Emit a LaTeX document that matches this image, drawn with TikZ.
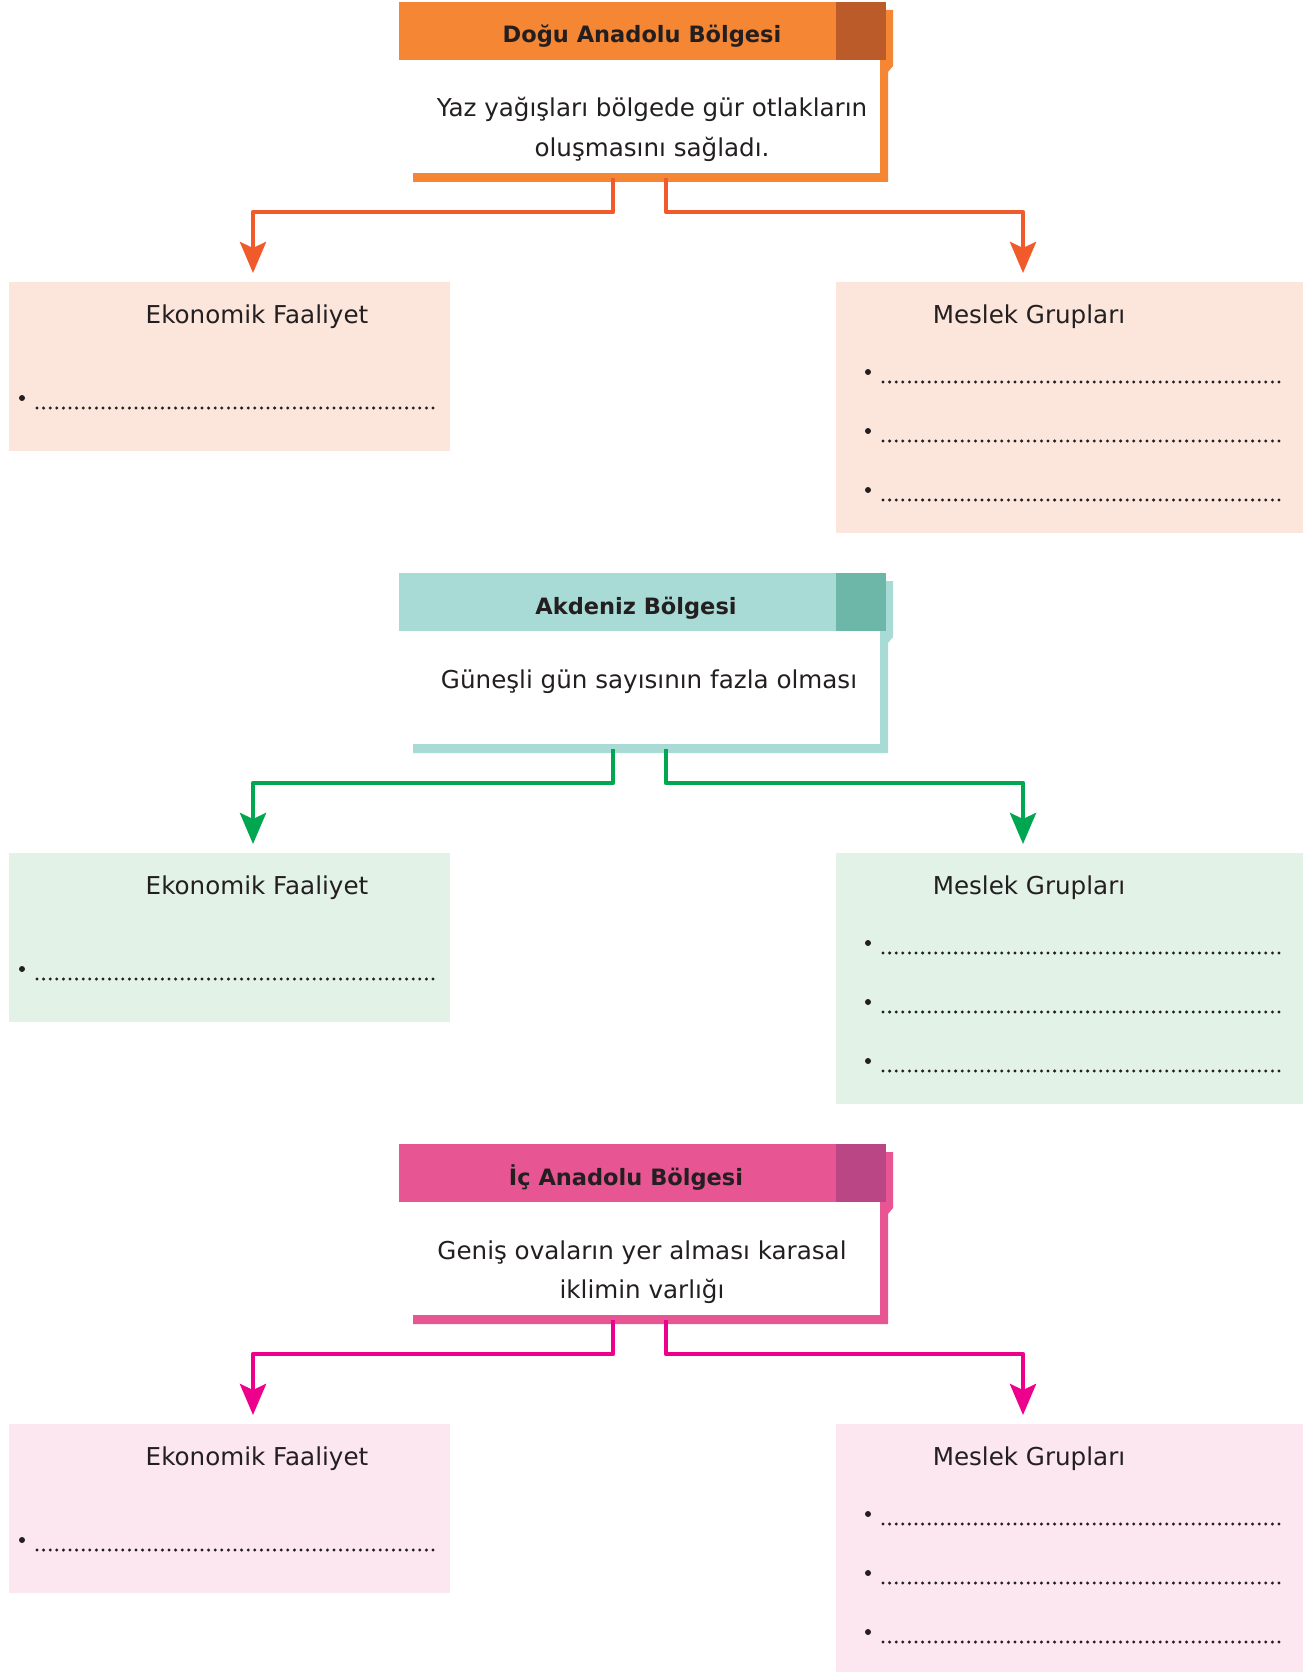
\documentclass[tikz,border=0pt]{standalone}
\usepackage{fontspec}
\setmainfont{DejaVu Sans}
\usetikzlibrary{arrows.meta}
\definecolor{orT}{HTML}{F48634}
\definecolor{orD}{HTML}{BA5B29}
\definecolor{orC}{HTML}{F15A2B}
\definecolor{orF}{HTML}{FCE5DB}
\definecolor{tlT}{HTML}{A8DBD5}
\definecolor{tlD}{HTML}{6CB7A8}
\definecolor{tlC}{HTML}{00A650}
\definecolor{tlF}{HTML}{E2F2E7}
\definecolor{pkT}{HTML}{E75593}
\definecolor{pkD}{HTML}{BA4686}
\definecolor{pkC}{HTML}{EC008C}
\definecolor{pkF}{HTML}{FCE6F0}
\definecolor{ink}{HTML}{231F20}
\tikzset{
  plain/.style={anchor=north west, inner sep=0pt, outer sep=0pt, draw=none},
  conn/.style={draw=#1, line width=4.5pt, line join=round,
    -{Stealth[length=31pt,width=26pt,inset=6pt]}},
  ttl/.style={anchor=base, inner sep=0pt, text=ink, font=\fontsize{22.5}{26}\selectfont\bfseries},
  txt/.style={anchor=base, inner sep=0pt, text=ink, font=\fontsize{24.6}{28}\selectfont},
  dotline/.style={draw=ink, line width=3.3pt, line cap=round, dash pattern=on 0pt off 6.6pt},
}
\newcommand\drawregion[6]{%
  \begin{scope}[yshift=-#2pt]
    \fill[#3] (886,10) -- (893,10) -- (893,66) -- (888,72) -- (888,182) -- (413,182)
      -- (413,173) -- (880,173) -- (880,60) -- cycle;
    \node[plain, fill=#3, minimum width=437pt, minimum height=58pt] (t#1) at (399,2) {};
    \node[plain, fill=#4, minimum width=50pt, minimum height=58pt] (d#1) at (836,2) {};
    \node[plain, fill=white, minimum width=467pt, minimum height=113pt] (i#1) at (413,60) {};
    \node[plain, fill=#6, minimum width=441pt, minimum height=169pt] (e#1) at (9,282) {};
    \node[plain, fill=#6, minimum width=467pt, minimum height=251pt] (m#1) at (836,282) {};
    \node[txt] (et#1) at (257,323) {Ekonomik Faaliyet};
    \node[txt] (mt#1) at (1029,323) {Meslek Grupları};
    \fill[ink] (22,398) circle (3);
    \draw[dotline] (37,408) -- (433,408);
    \foreach \yy in {372,431,490} {
      \fill[ink] (868,\yy) circle (3);
      \draw[dotline] (883,\yy+10) -- (1285,\yy+10);
    }
    \coordinate (sl#1) at (613,178);
    \coordinate (sr#1) at (666,178);
    \coordinate (hl#1) at (253,212);
    \coordinate (hr#1) at (1023,212);
    \coordinate (al#1) at (253,273);
    \coordinate (ar#1) at (1023,273);
    \draw[conn=#5] (sl#1) |- (hl#1) -- (al#1);
    \draw[conn=#5] (sr#1) |- (hr#1) -- (ar#1);
  \end{scope}}
\begin{document}
\begin{tikzpicture}[x=1pt,y=-1pt]
\useasboundingbox[fill=white] (0,0) rectangle (1306,1672);
\drawregion{1}{0}{orT}{orD}{orC}{orF}
\node[ttl] (tt1) at (642,43) {Doğu Anadolu Bölgesi};
\node[txt] (b1a) at (652,117) {Yaz yağışları bölgede gür otlakların};
\node[txt] (b1b) at (652,157) {oluşmasını sağladı.};
\drawregion{2}{571}{tlT}{tlD}{tlC}{tlF}
\node[ttl] (tt2) at (636,614) {Akdeniz Bölgesi};
\node[txt] (b2a) at (649,688) {Güneşli gün sayısının fazla olması};
\drawregion{3}{1142}{pkT}{pkD}{pkC}{pkF}
\node[ttl] (tt3) at (626,1185) {İç Anadolu Bölgesi};
\node[txt] (b3a) at (642,1259) {Geniş ovaların yer alması karasal};
\node[txt] (b3b) at (642,1298) {iklimin varlığı};
\end{tikzpicture}
\end{document}
